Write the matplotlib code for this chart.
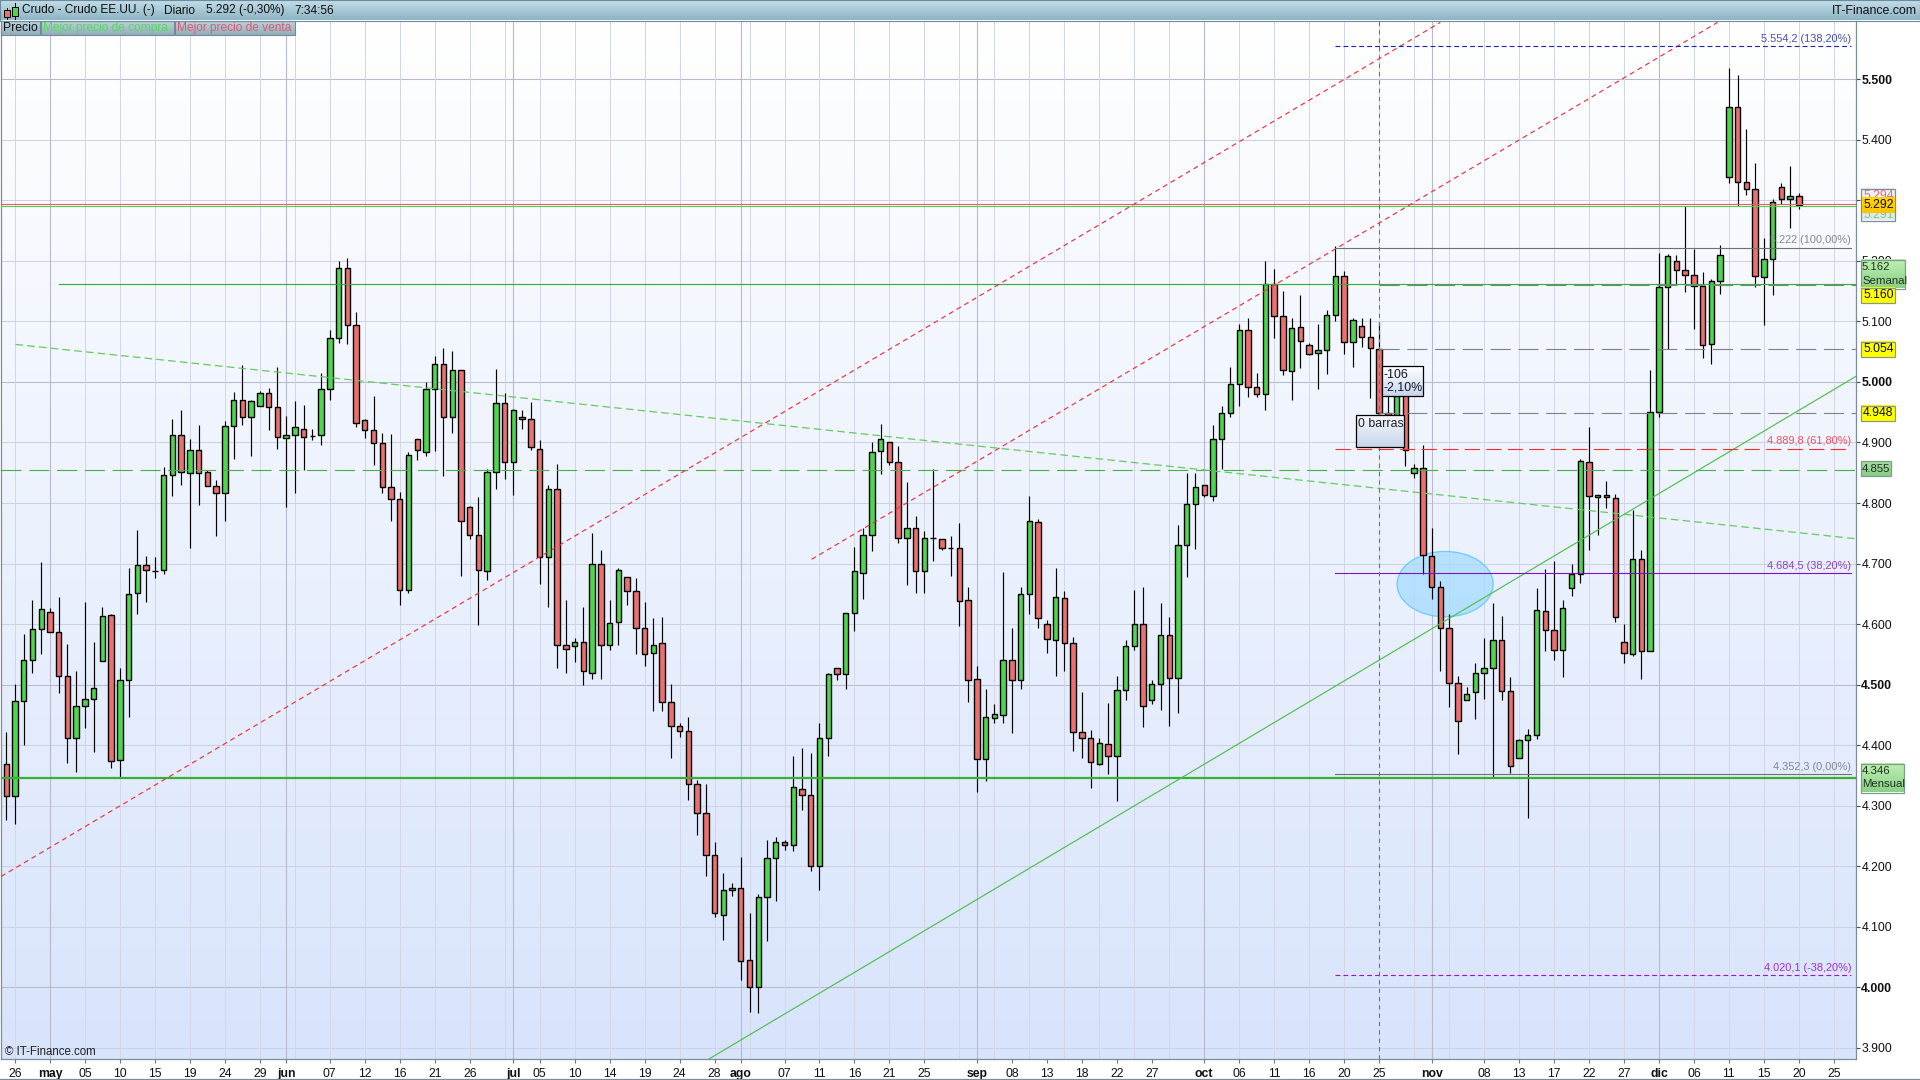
import matplotlib
matplotlib.use("Agg")
import matplotlib.pyplot as plt
import numpy as np
from matplotlib.patches import Ellipse, Rectangle

plt.rcParams['font.family'] = ['Liberation Sans', 'DejaVu Sans']
plt.rcParams['lines.scale_dashes'] = False

# daily candles
opens = [4.369,4.316,4.473,4.541,4.592,4.620,4.587,4.514,4.412,4.464,
         4.476,4.539,4.615,4.375,4.507,4.651,4.697,4.687,4.689,4.847,
         4.913,4.849,4.887,4.851,4.828,4.816,4.928,4.970,4.942,4.960,
         4.981,4.958,4.907,4.913,4.923,4.911,4.912,4.988,5.072,5.189,
         5.094,4.937,4.920,4.899,4.826,4.806,4.656,4.905,4.885,4.988,
         5.029,4.942,5.019,4.793,4.747,4.687,4.852,4.966,4.867,4.942,
         4.938,4.890,4.711,4.823,4.566,4.563,4.570,4.520,4.700,4.566,
         4.603,4.677,4.654,4.593,4.552,4.568,4.471,4.431,4.424,4.335,
         4.288,4.218,4.120,4.160,4.164,4.045,4.001,4.149,4.214,4.240,
         4.235,4.328,4.317,4.201,4.411,4.527,4.517,4.618,4.685,4.747,
         4.886,4.900,4.868,4.742,4.758,4.687,4.742,4.741,4.726,4.726,
         4.640,4.509,4.377,4.445,4.449,4.540,4.508,4.650,4.769,4.600,
         4.573,4.643,4.569,4.422,4.412,4.369,4.402,4.382,4.491,4.564,
         4.600,4.475,4.501,4.582,4.511,4.731,4.798,4.830,4.812,4.906,
         4.949,4.997,5.085,4.992,4.980,5.161,5.109,5.018,5.091,5.061,
         5.048,5.053,5.111,5.175,5.066,5.092,5.075,5.054,4.949,4.946,
         4.980,4.850,4.858,4.712,4.662,4.593,4.502,4.475,4.487,4.520,
         4.528,4.573,4.490,4.379,4.409,4.417,4.622,4.591,4.558,4.659,
         4.682,4.868,4.810,4.813,4.808,4.571,4.551,4.708,4.556,4.950,
         5.157,5.200,5.185,5.177,5.158,5.062,5.166,5.338,5.455,5.331,
         5.318,5.173,5.203,5.322,5.303,5.308]
closes = [4.316,4.473,4.541,4.592,4.625,4.587,4.514,4.412,4.464,4.476,
          4.494,4.613,4.373,4.507,4.649,4.697,4.690,4.687,4.847,4.912,
          4.851,4.887,4.849,4.828,4.816,4.928,4.970,4.942,4.968,4.981,
          4.958,4.909,4.913,4.925,4.909,4.911,4.988,5.072,5.189,5.094,
          4.932,4.920,4.899,4.826,4.806,4.656,4.879,4.887,4.988,5.029,
          4.942,5.019,4.770,4.747,4.689,4.852,4.966,4.867,4.954,4.938,
          4.892,4.711,4.823,4.566,4.559,4.570,4.522,4.700,4.566,4.601,
          4.689,4.654,4.593,4.550,4.566,4.472,4.431,4.424,4.335,4.288,
          4.218,4.122,4.160,4.164,4.044,4.001,4.149,4.213,4.240,4.235,
          4.331,4.317,4.201,4.411,4.518,4.518,4.618,4.687,4.747,4.885,
          4.905,4.867,4.742,4.758,4.687,4.743,4.742,4.726,4.726,4.638,
          4.508,4.377,4.446,4.451,4.540,4.508,4.650,4.771,4.610,4.575,
          4.645,4.569,4.422,4.412,4.372,4.403,4.382,4.491,4.564,4.600,
          4.465,4.501,4.582,4.511,4.731,4.798,4.827,4.814,4.906,4.949,
          4.997,5.085,4.992,4.980,5.161,5.109,5.020,5.089,5.068,5.047,
          5.053,5.111,5.175,5.066,5.102,5.075,5.056,4.949,4.945,4.976,
          4.887,4.858,4.714,4.662,4.594,4.502,4.440,4.485,4.520,4.528,
          4.573,4.490,4.366,4.409,4.416,4.624,4.591,4.558,4.627,4.682,
          4.869,4.811,4.814,4.810,4.612,4.552,4.708,4.556,4.950,5.157,
          5.208,5.185,5.177,5.158,5.061,5.166,5.210,5.455,5.331,5.318,
          5.175,5.203,5.298,5.302,5.308,5.292]
highs = [4.421,4.501,4.584,4.639,4.703,4.627,4.645,4.567,4.523,4.637,
         4.570,4.628,4.617,4.528,4.693,4.755,4.713,4.710,4.859,4.939,
         4.954,4.906,4.929,4.855,4.838,4.935,4.983,5.028,4.970,4.985,
         4.990,5.025,4.944,4.969,4.962,4.922,5.015,5.086,5.200,5.204,
         5.116,4.938,4.977,4.916,4.914,4.818,4.884,4.905,5.000,5.043,
         5.056,5.051,5.019,4.795,4.810,4.856,5.022,4.982,4.956,4.954,
         4.967,4.904,4.830,4.864,4.640,4.577,4.628,4.750,4.722,4.639,
         4.693,4.677,4.676,4.636,4.610,4.612,4.501,4.437,4.447,4.342,
         4.336,4.240,4.189,4.172,4.215,4.123,4.154,4.243,4.248,4.243,
         4.382,4.396,4.387,4.437,4.519,4.527,4.618,4.727,4.758,4.900,
         4.931,4.900,4.894,4.835,4.779,4.754,4.856,4.741,4.745,4.767,
         4.662,4.530,4.492,4.468,4.686,4.594,4.661,4.812,4.774,4.607,
         4.693,4.655,4.578,4.487,4.425,4.411,4.470,4.515,4.573,4.657,
         4.662,4.507,4.634,4.611,4.764,4.850,4.850,4.830,4.929,4.960,
         5.025,5.095,5.106,5.014,5.199,5.187,5.151,5.106,5.144,5.064,
         5.096,5.119,5.224,5.183,5.106,5.105,5.106,5.099,4.985,4.985,
         4.990,4.865,4.896,4.758,4.671,4.616,4.515,4.496,4.535,4.577,
         4.634,4.613,4.512,4.410,4.426,4.659,4.691,4.705,4.639,4.700,
         4.872,4.925,4.814,4.837,4.815,4.600,4.788,4.722,5.020,5.213,
         5.212,5.210,5.290,5.219,5.182,5.170,5.227,5.519,5.507,5.418,
         5.361,5.237,5.303,5.329,5.357,5.312]
lows = [4.277,4.269,4.400,4.519,4.550,4.587,4.486,4.370,4.355,4.428,
        4.388,4.539,4.362,4.347,4.446,4.616,4.636,4.676,4.682,4.812,
        4.829,4.725,4.796,4.828,4.746,4.771,4.872,4.929,4.878,4.960,
        4.920,4.890,4.794,4.817,4.855,4.904,4.896,4.971,5.065,5.062,
        4.925,4.908,4.863,4.817,4.771,4.632,4.651,4.871,4.877,4.886,
        4.844,4.916,4.680,4.741,4.599,4.672,4.823,4.839,4.814,4.923,
        4.887,4.667,4.629,4.528,4.520,4.538,4.499,4.510,4.510,4.558,
        4.565,4.631,4.550,4.530,4.457,4.457,4.379,4.414,4.310,4.252,
        4.184,4.116,4.078,4.150,4.012,3.959,3.957,4.077,4.143,4.227,
        4.225,4.293,4.192,4.160,4.382,4.507,4.492,4.589,4.642,4.721,
        4.848,4.863,4.734,4.664,4.651,4.651,4.704,4.722,4.680,4.597,
        4.472,4.322,4.341,4.437,4.436,4.420,4.492,4.616,4.594,4.552,
        4.515,4.523,4.390,4.378,4.329,4.367,4.353,4.307,4.475,4.557,
        4.430,4.468,4.458,4.432,4.453,4.678,4.724,4.810,4.803,4.856,
        4.942,4.961,4.975,4.975,4.953,5.073,5.011,4.970,5.023,5.045,
        4.989,5.013,5.101,5.046,5.024,5.058,4.973,4.930,4.901,4.930,
        4.861,4.842,4.683,4.642,4.523,4.463,4.385,4.475,4.443,4.476,
        4.348,4.474,4.354,4.379,4.280,4.410,4.556,4.540,4.513,4.647,
        4.668,4.722,4.747,4.791,4.604,4.536,4.547,4.509,4.556,4.942,
        5.055,5.161,5.148,5.088,5.039,5.029,5.145,5.328,5.291,5.309,
        5.157,5.094,5.144,5.294,5.254,5.285]

# bar number of each labelled date
xtick_pos = [1,5,9,13,17,21,25,29,32,37,41,45,49,53,58,61,65,69,73,77,81,84,89,93,97,
             101,105,111,115,119,123,127,131,137,141,145,149,153,157,163,169,173,177,
             181,185,189,193,197,201,205,209]
xtick_labels = ['26','may','05','10','15','19','24','29','jun','07','12','16','21','26',
                'jul','05','10','14','19','24','28','ago','07','11','16','21','25','sep',
                '08','13','18','22','27','oct','06','11','16','20','25','nov','08','13',
                '17','22','27','dic','06','11','15','20','25']
months = ['may','jun','jul','ago','sep','oct','nov','dic']
ytick_values = [3.9,4.0,4.1,4.2,4.3,4.4,4.5,4.6,4.7,4.8,4.9,5.0,5.1,5.2,5.3,5.4,5.5]

support_monthly = 4.346
support_weekly = 5.161
pivot_mid = 4.855
levels_grey = [5.160, 5.054, 4.948]
ask_price, bid_price = 5.2935, 5.290

red_channel_low = ([-0.6, 164.0], [4.183, 5.594])
red_channel_high = ([92.1, 195.7], [4.707, 5.594])
green_dotted = ([1.05, 211.5], [5.062, 4.741])
green_rising = ([80.3, 211.5], [3.881, 5.009])

fib_levels = [5.5542, 5.222, 4.8898, 4.6845, 4.3523, 4.0201]
fib_labels = ['5.554,2 (138,20%)', '5.222 (100,00%)', '4.889,8 (61,80%)',
              '4.684,5 (38,20%)', '4.352,3 (0,00%)', '4.020,1 (-38,20%)']
fib_colors = ['#2020B0', '#707070', '#F03030', '#8010C0', '#707070', '#A010D0']
fib_text_colors = ['#4050B0', '#808890', '#F05060', '#9040C8', '#808890', '#A030D0']
fib_styles = [(0, (3.5, 2.2)), '-', (0, (11, 4.5)), '-', '-', (0, (3.5, 2.2))]

W, H = 1920, 1080
L, R, T, B = 1.0, 1855.7, 21.0, 1059.0
fig = plt.figure(figsize=(W / 100, H / 100), dpi=100, facecolor='white')
ax = fig.add_axes([L / W, 1 - B / H, (R - L) / W, (B - T) / H])

xmin, xmax = -0.6, 211.5
ymin, ymax = 3.8815, 5.5963

# background gradient
grad = np.linspace(0, 1, 256).reshape(-1, 1, 1)
top_c = np.array([1.0, 1.0, 1.0]).reshape(1, 1, 3)
bot_c = np.array([0xD8, 0xE4, 0xFC]).reshape(1, 1, 3) / 255
ax.imshow(top_c + (bot_c - top_c) * grad, aspect='auto', extent=(xmin, xmax, ymin, ymax), zorder=0)

# grid
for v in ytick_values:
    bold = abs(v * 2 - round(v * 2)) < 1e-6
    ax.axhline(v, color='#B6BACC' if bold else '#CDD1E2', lw=0.75, zorder=1)
for i in range(1, 212, 4):
    ax.axvline(i, color='#D2D6E6', lw=0.72, zorder=1)
for i, lab in zip(xtick_pos, xtick_labels):
    if lab in months:
        ax.axvline(i, color='#B6BACC', lw=0.8, zorder=1)

# marked zone, under the candles
ax.add_patch(Ellipse((164.55, 4.666), 10.99, 0.108, facecolor='#A8DCFF', edgecolor='#58C4F8',
                     alpha=0.8, lw=0.9, zorder=2.5))

# candles
x = np.arange(len(opens))
opens = np.array(opens)
closes = np.array(closes)
up = closes >= opens
ax.vlines(x, lows, highs, color='black', lw=0.85, zorder=3)
body_bottom = np.minimum(opens, closes)
body_h = np.abs(closes - opens)
ax.bar(x[up], body_h[up], bottom=body_bottom[up], width=0.62, color='#4FD64F',
       edgecolor='black', linewidth=1.0, zorder=3.1)
ax.bar(x[~up], body_h[~up], bottom=body_bottom[~up], width=0.62, color='#EC7070',
       edgecolor='black', linewidth=1.0, zorder=3.1)

# horizontal levels
ax.axhline(support_monthly, color='#38B038', lw=1.6, zorder=4)
ax.plot([6.0, xmax], [support_weekly, support_weekly], color='#38B038', lw=0.85, zorder=4)
ax.axhline(pivot_mid, color='#48B048', lw=0.8, ls=(0, (14.5, 5.5)), zorder=4)
ax.axhline(ask_price, color='#E85C64', lw=0.8, zorder=4)
ax.axhline(bid_price, color='#48D848', lw=0.8, zorder=4)
for lv in levels_grey:
    ax.plot([157, xmax], [lv, lv], color='#808080', lw=0.8, ls=(0, (14.5, 5.5)), zorder=3.9)

# trend lines
for line in (red_channel_low, red_channel_high):
    ax.plot(line[0], line[1], color='#F03040', lw=0.85, ls=(0, (3.6, 2.8)), zorder=4)
ax.plot(green_dotted[0], green_dotted[1], color='#62CC62', lw=0.9, ls=(0, (5.5, 3)), zorder=4)
ax.plot(green_rising[0], green_rising[1], color='#50BE50', lw=0.85, zorder=4)

# fibonacci levels
for lv, lab, c, tc, st in zip(fib_levels, fib_labels, fib_colors, fib_text_colors, fib_styles):
    ax.plot([152, 211], [lv, lv], color=c, lw=0.8, ls=st, zorder=4)
    ax.annotate(lab, (211, lv), xytext=(0, 1.6), textcoords='offset points', ha='right',
                va='bottom', fontsize=7.9, color=tc, zorder=5)

# measuring line
ax.axvline(157, color='#707070', lw=0.8, ls=(0, (3, 3)), zorder=4.6)

ax.set_xlim(xmin, xmax)
ax.set_ylim(ymin, ymax)
ax.set_xticks(xtick_pos)
ax.set_xticklabels(xtick_labels)
for t in ax.get_xticklabels():
    t.set_fontsize(8.8)
    t.set_color('#101010')
    if t.get_text() in months:
        t.set_fontweight('bold')
ax.yaxis.tick_right()
ax.set_yticks(ytick_values)
ax.set_yticklabels(['%.3f' % v for v in ytick_values])
for t, v in zip(ax.get_yticklabels(), ytick_values):
    t.set_fontsize(8.8)
    t.set_color('#101010')
    if abs(v * 2 - round(v * 2)) < 1e-6:
        t.set_fontweight('bold')
ax.tick_params(axis='x', length=3, width=0.8, color='#6A7A88', pad=3.2)
ax.tick_params(axis='y', length=3, width=0.8, color='#404850', pad=1.0)
for name, sp in ax.spines.items():
    sp.set_color('#7C8C98')
    sp.set_linewidth(0.9)
ax.spines['top'].set_visible(False)

ax.text(0.002, 0.001, '© IT-Finance.com', transform=ax.transAxes, fontsize=8.3, color='#202020',
        va='bottom', ha='left', zorder=6)

# screen furniture, in pixels
ov = fig.add_axes([0, 0, 1, 1], zorder=10)
ov.set_xlim(0, W)
ov.set_ylim(H, 0)
ov.axis('off')
ov.patch.set_alpha(0)


def grad_box(x0, y0, x1, y1, c0, c1, edge=None, lw=0.8, z=2):
    c0 = np.array(matplotlib.colors.to_rgb(c0)).reshape(1, 1, 3)
    c1 = np.array(matplotlib.colors.to_rgb(c1)).reshape(1, 1, 3)
    g = np.linspace(0, 1, 32).reshape(-1, 1, 1)
    ov.imshow(c0 + (c1 - c0) * g, aspect='auto', extent=(x0, x1, y1, y0), zorder=z)
    if edge:
        ov.add_patch(Rectangle((x0, y0), x1 - x0, y1 - y0, fill=False, edgecolor=edge, lw=lw, zorder=z + 0.1))


grad_box(0, 0, W, 20.5, '#C4E0EA', '#8FB4C4', edge='#6F8A98')
grad_box(1, 21, 40, 35, '#B9D2DC', '#93AEBA', edge='#6F8A98')
grad_box(41, 21, 174, 35, '#B9D2DC', '#93AEBA', edge='#6F8A98')
grad_box(175, 21, 295, 35, '#B9D2DC', '#93AEBA', edge='#6F8A98')
ov.add_patch(Rectangle((3.5, 10), 6, 7, facecolor='#EC7070', edgecolor='black', lw=0.7, zorder=3))
ov.plot([6.5, 6.5], [8, 19], color='black', lw=0.7, zorder=2.9)
ov.add_patch(Rectangle((11.5, 7), 6, 9, facecolor='#4FD64F', edgecolor='black', lw=0.7, zorder=3))
ov.plot([14.5, 14.5], [3, 19], color='black', lw=0.7, zorder=2.9)

head_kw = dict(fontsize=8.6, color='#101010', va='center', ha='left', zorder=4)
ov.text(22.5, 10.5, 'Crudo - Crudo EE.UU. (-)', **head_kw)
ov.text(164, 10.5, 'Diario', **head_kw)
ov.text(206, 10.5, '5.292 (-0,30%)', **head_kw)
ov.text(294, 10.5, '7:34:56', **head_kw)
ov.text(1917, 10.5, 'IT-Finance.com', fontsize=8.9, color='#101010', va='center', ha='right', zorder=4)
ov.text(3.5, 28, 'Precio', fontsize=8.8, color='#101018', va='center', zorder=4)
ov.text(43, 28, 'Mejor precio de compra', fontsize=8.6, color='#52DC52', va='center', zorder=4)
ov.text(177, 28, 'Mejor precio de venta', fontsize=8.6, color='#E05870', va='center', zorder=4)

# measure boxes over the candles
grad_box(1356, 415, 1404, 447, '#F4F7FC', '#C8D6EC', edge='black', lw=0.9, z=5)
ov.text(1358.5, 424, '0 barras', fontsize=8.9, color='#202020', va='center', zorder=6)
grad_box(1382, 366, 1422.5, 396, '#FFFFFF', '#C8D6EC', edge='black', lw=0.9, z=5.5)
ov.text(1384, 374.5, '-106', fontsize=8.9, color='#101828', va='center', zorder=6)
ov.text(1384, 388, '-2,10%', fontsize=8.9, color='#101828', va='center', zorder=6)

# price tags on the scale
tag_kw = dict(fontsize=8.8, color='#101010', va='center', ha='left', zorder=8)
grad_box(1861, 189, 1894.5, 220.5, '#EEF2F6', '#E0E8F0', edge='#7C8C98', lw=0.9, z=6)
ov.text(1863, 196, '5.294', fontsize=8.8, color='#E86A70', va='center', zorder=6.5)
ov.text(1863, 215, '5.291', fontsize=8.8, color='#70D070', va='center', zorder=6.5)
grad_box(1861.5, 197.5, 1894.5, 213.5, '#FFD400', '#FFC400', z=7)
ov.text(1863, 205.5, '5.292', **tag_kw)
grad_box(1861, 259.5, 1904.5, 288.5, '#C0F0B0', '#88D088', edge='#7C9C8C', lw=0.9, z=6)
ov.text(1862, 267.5, '5.162', fontsize=8.2, color='#203020', va='center', zorder=8)
ov.text(1862, 280.5, 'Semanal', fontsize=8.2, color='#203020', va='center', zorder=8)
for y0, lab in [(287.5, '5.160'), (341.5, '5.054'), (405.5, '4.948')]:
    grad_box(1861, y0, 1894.5, y0 + 15.5, '#FFFF00', '#FFFF00', edge='#8A9A80', lw=0.9, z=7)
    ov.text(1863, y0 + 8, lab, **tag_kw)
grad_box(1861, 461, 1890.5, 476, '#A8DCA0', '#88CC88', edge='#7C9C8C', lw=0.9, z=7)
ov.text(1862, 468.5, '4.855', fontsize=8.2, color='#203020', va='center', zorder=8)
grad_box(1861, 763.5, 1903.5, 792.5, '#C0F0B0', '#88D088', edge='#7C9C8C', lw=0.9, z=6)
ov.text(1862, 771, '4.346', fontsize=8.2, color='#203020', va='center', zorder=8)
ov.text(1862, 784, 'Mensual', fontsize=8.2, color='#203020', va='center', zorder=8)

ov.plot([0, W], [1078.5, 1078.5], color='#7C8C98', lw=0.9, zorder=2)
ov.set_xlim(0, W)
ov.set_ylim(H, 0)

fig.savefig('out.png', dpi=100)
